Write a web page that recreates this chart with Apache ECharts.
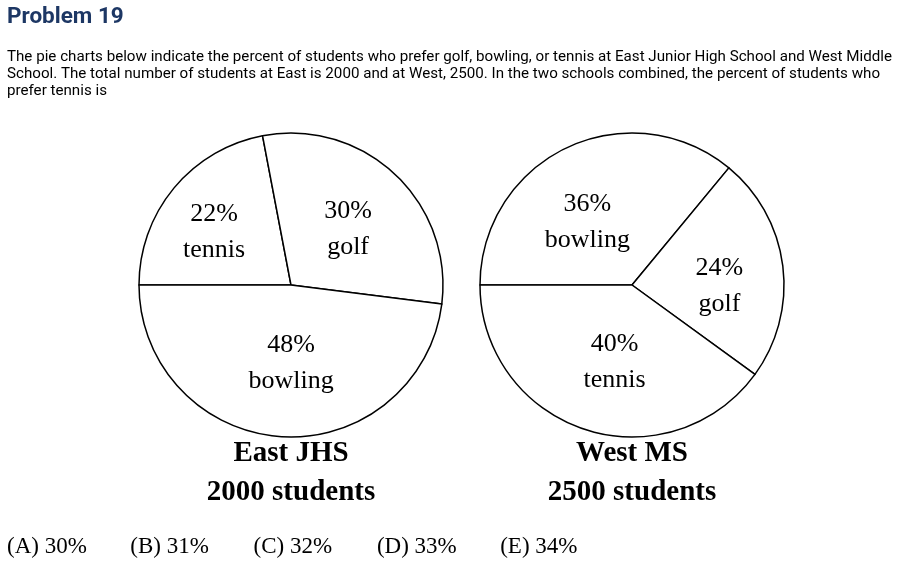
<!DOCTYPE html>
<html><head><meta charset="utf-8">
<script src="https://cdn.jsdelivr.net/npm/echarts@6/dist/echarts.min.js"></script>
<style>html,body{margin:0;padding:0;background:#fff}#c{width:900px;height:564px}</style>
</head><body><div id="c"></div>
<script>
// ---- data ----
const problemTitle = 'Problem 19';
const problemLines = [
  'The pie charts below indicate the percent of students who prefer golf, bowling, or tennis at East Junior High School and West Middle',
  'School. The total number of students at East is 2000 and at West, 2500. In the two schools combined, the percent of students who',
  'prefer tennis is'
];
const eastNames = ['tennis', 'golf', 'bowling'];
const eastValues = [22, 30, 48];
const westNames = ['bowling', 'golf', 'tennis'];
const westValues = [36, 24, 40];
const schoolNames = ['East JHS', 'West MS'];
const schoolTotals = [2000, 2500];
const choiceLetters = ['A', 'B', 'C', 'D', 'E'];
const choiceValues = [30, 31, 32, 33, 34];

// ---- layout / style ----
const serif = '"Liberation Serif", "Times New Roman", serif';
const sans = 'Roboto, "Noto Sans", sans-serif';
const pieCenters = [[291, 285], [632, 285]];
const pieRadius = 152;
const labelNudges = [
  [[-16, -2], [3, 2], [5, -1]],
  [[-11, 9], [9, 11], [7, 2]]
];

function pieSeries(idx, names, values) {
  return {
    type: 'pie',
    center: pieCenters[idx],
    radius: [0, pieRadius],
    startAngle: 180,
    clockwise: true,
    silent: true,
    animation: false,
    avoidLabelOverlap: false,
    itemStyle: { color: '#ffffff', borderColor: '#000000', borderWidth: 1.5 },
    emphasis: { disabled: true },
    label: {
      show: true,
      position: 'inside',
      formatter: '{p|{c}%}\n{n|{b}}',
      rich: {
        p: { fontFamily: serif, fontSize: 26, color: '#000', lineHeight: 36 },
        n: { fontFamily: serif, fontSize: 26, color: '#000', lineHeight: 36 }
      }
    },
    labelLine: { show: false },
    labelLayout: function (p) {
      const d = labelNudges[idx][p.dataIndex];
      return { dx: d[0], dy: d[1] };
    },
    data: names.map((n, i) => ({ name: n, value: values[i] }))
  };
}

const graphics = [];
graphics.push({
  type: 'text', left: 7, top: 6,
  style: { text: problemTitle, font: 'bold 22.5px ' + sans, fill: '#1d3764' }
});
problemLines.forEach((t, i) => {
  graphics.push({
    type: 'text', left: 7, top: 50 + i * 17,
    style: { text: t, font: '15.15px ' + sans, fill: '#000' }
  });
});
schoolNames.forEach((s, i) => {
  graphics.push({
    type: 'text', x: pieCenters[i][0], y: 454,
    style: { text: s, font: 'bold 29px ' + serif, fill: '#000', textAlign: 'center', textVerticalAlign: 'middle' }
  });
  graphics.push({
    type: 'text', x: pieCenters[i][0], y: 493,
    style: { text: schoolTotals[i] + ' students', font: 'bold 29px ' + serif, fill: '#000', textAlign: 'center', textVerticalAlign: 'middle' }
  });
});
choiceLetters.forEach((c, i) => {
  graphics.push({
    type: 'text', x: 7 + i * 123.3, y: 547,
    style: { text: '(' + c + ') ' + choiceValues[i] + '%', font: '23px ' + serif, fill: '#000', textAlign: 'left', textVerticalAlign: 'middle' }
  });
});

const chart = echarts.init(document.getElementById('c'), null, { renderer: 'canvas' });
chart.setOption({
  backgroundColor: '#ffffff',
  animation: false,
  series: [pieSeries(0, eastNames, eastValues), pieSeries(1, westNames, westValues)],
  graphic: graphics
});
</script>
</body></html>
